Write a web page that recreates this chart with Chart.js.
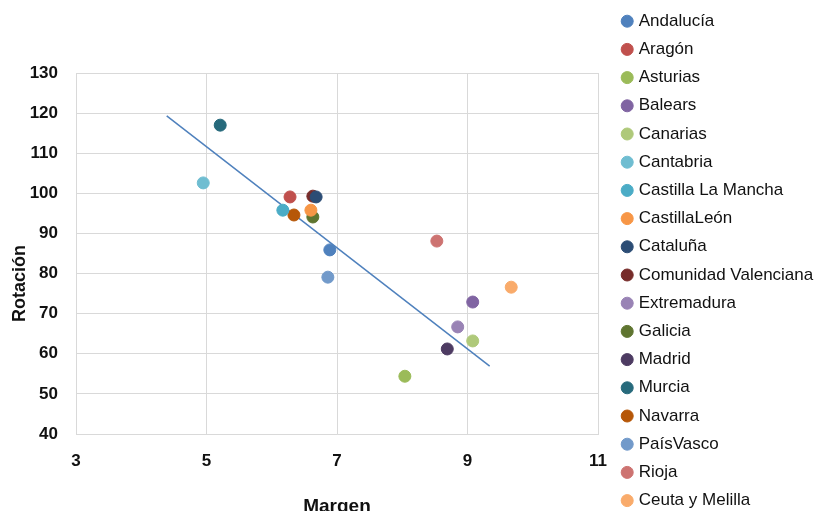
<!DOCTYPE html>
<html><head><meta charset="utf-8">
<script src="https://cdn.jsdelivr.net/npm/chart.js@4/dist/chart.umd.min.js"></script>
<style>
html,body{margin:0;padding:0;overflow:hidden;background:#fff;width:818px;height:511px}
#wrap{position:relative;width:818px;height:525px}
</style>
</head><body>
<div id="wrap"><canvas id="c" width="818" height="525"></canvas></div>
<script>
const regions = ["Andalucía","Aragón","Asturias","Balears","Canarias","Cantabria","Castilla La Mancha","CastillaLeón","Cataluña","Comunidad Valenciana","Extremadura","Galicia","Madrid","Murcia","Navarra","PaísVasco","Rioja","Ceuta y Melilla"];
const margen   = [6.89, 6.28, 8.04, 9.08, 9.08, 4.95, 6.17, 6.60, 6.68, 6.63, 8.85, 6.63, 8.69, 5.21, 6.34, 6.86, 8.53, 9.67];
const rotacion = [85.9, 99.1, 54.4, 72.9, 63.2, 102.6, 95.8, 95.8, 99.1, 99.3, 66.7, 94.1, 61.2, 117.0, 94.6, 79.1, 88.1, 76.6];
const trendMargen = [4.39, 9.34];
const trendRotacion = [119.3, 56.9];
const regionColors = ["#4F81BD","#C0504D","#9BBB59","#8064A2","#AFC97A","#6FBDD1","#4BACC6","#F79646","#2C4D75","#772C2A","#9983B5","#5F7530","#4D3B62","#276A7C","#B65708","#729ACA","#CD7371","#F9AB6B"];

const FONT = "'Liberation Sans', Arial, sans-serif";
const datasets = regions.map((name, i) => ({
  label: name,
  data: [{x: margen[i], y: rotacion[i]}],
  backgroundColor: regionColors[i],
  borderColor: regionColors[i],
  borderWidth: 1,
  pointRadius: 6,
  pointHoverRadius: 6,
  pointStyle: 'circle'
}));
datasets.unshift({
  label: 'Tendencia',
  data: trendMargen.map((x, i) => ({x, y: trendRotacion[i]})),
  showLine: true,
  borderColor: '#4F81BD',
  backgroundColor: '#4F81BD',
  borderWidth: 1.5,
  pointRadius: 0,
  fill: false,
  order: 1
});

new Chart(document.getElementById('c'), {
  type: 'scatter',
  data: {datasets},
  options: {
    responsive: false,
    animation: false,
    layout: {padding: {top: 1.5, left: 0, right: 0, bottom: 0}},
    plugins: {
      tooltip: {enabled: false},
      legend: {
        position: 'right',
        align: 'start',
        maxWidth: 205,
        labels: {
          usePointStyle: true,
          boxWidth: 6,
          boxHeight: 8.5,
          padding: 11.2,
          color: '#111',
          font: {family: FONT, size: 17},
          filter: item => item.text !== 'Tendencia'
        }
      }
    },
    scales: {
      x: {
        type: 'linear', position: 'bottom', min: 3, max: 11,
        ticks: {stepSize: 2, padding: 17, color: '#111', font: {family: FONT, size: 17, weight: 'bold'}},
        grid: {color: '#D9D9D9', lineWidth: 1, drawTicks: false},
        border: {color: '#D9D9D9'},
        title: {display: true, text: 'Margen', color: '#111', padding: {top: 0, bottom: 6.5}, font: {family: FONT, size: 19, weight: 'bold'}},
        afterFit: s => { s.height = 91; }
      },
      x2: {
        type: 'linear', position: 'top', display: true,
        grid: {display: false}, border: {display: false}, ticks: {display: false},
        afterFit: s => { s.height = 71.5; }
      },
      y: {
        type: 'linear', position: 'left', min: 40, max: 130,
        ticks: {stepSize: 10, padding: 18, color: '#111', font: {family: FONT, size: 17, weight: 'bold'}},
        grid: {color: '#D9D9D9', lineWidth: 1, drawTicks: false},
        border: {color: '#D9D9D9'},
        title: {display: true, text: 'Rotación            ', color: '#111', padding: {top: 9, bottom: 0}, font: {family: FONT, size: 18, weight: 'bold'}},
        afterFit: s => { s.width = 76; }
      },
      y2: {
        type: 'linear', position: 'right', display: true,
        grid: {display: false}, border: {display: false}, ticks: {display: false},
        afterFit: s => { s.width = 15; }
      }
    }
  }
});
</script>
</body></html>
